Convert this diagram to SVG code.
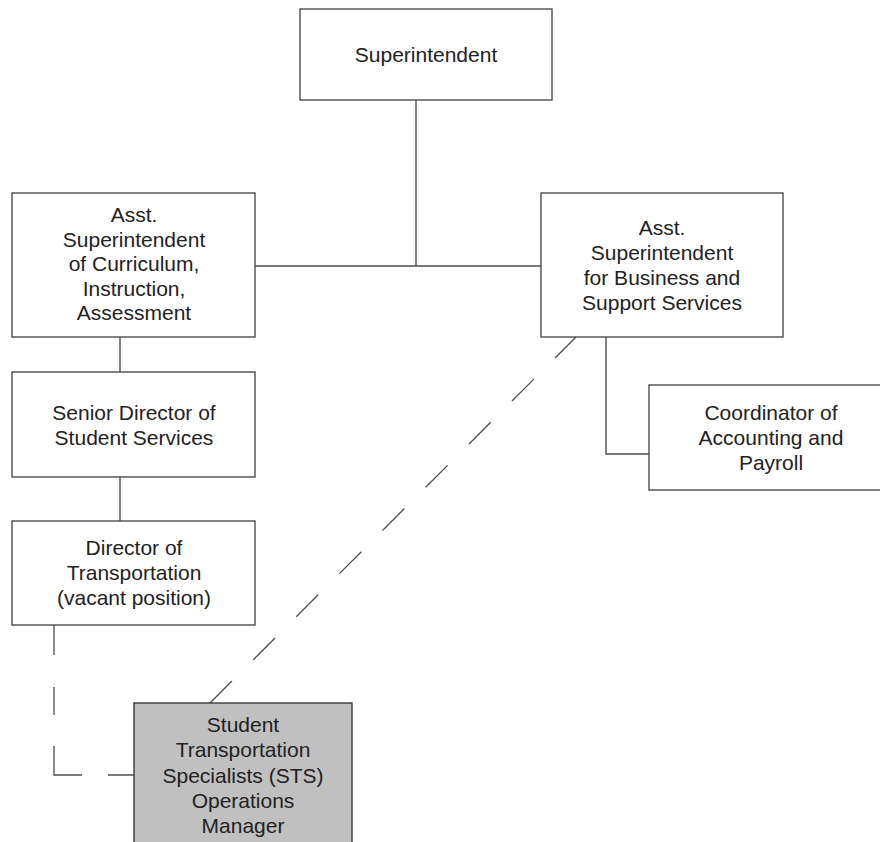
<svg xmlns="http://www.w3.org/2000/svg" width="880" height="842" viewBox="0 0 880 842">
<style>
.box{fill:#ffffff;stroke:#4d4d4d;stroke-width:1.4}
.grey{fill:#c0c0c0;stroke:#3a3a3a;stroke-width:1.4}
.t{font-family:"Liberation Sans",Arial,sans-serif;font-size:21px;fill:#222222;text-anchor:middle}
.ln{fill:none;stroke:#4d4d4d;stroke-width:1.4}
.dash{fill:none;stroke:#4d4d4d;stroke-width:1.3}
</style>
<rect width="880" height="842" fill="#ffffff"/>
<g id="connectors">
<path class="ln" d="M416 100 V266"/>
<path class="ln" d="M255 266 H541"/>
<path class="ln" d="M120 337 V372"/>
<path class="ln" d="M120 477 V521"/>
<path class="ln" d="M606 337 V454 H649"/>
<path class="dash" d="M54 625 V775 H134" stroke-dasharray="30 32 28 31 57 26 26"/>
<path class="dash" d="M210 703 L576 337" stroke-dasharray="31 30"/>
</g>
<g id="superintendent">
<rect class="box" x="300" y="9" width="252" height="91"/>
<text class="t" x="426" y="62">Superintendent</text>
</g>
<g id="asst-curriculum">
<rect class="box" x="12" y="193" width="243" height="144"/>
<text class="t" x="134"><tspan x="134" y="222">Asst.</tspan><tspan x="134" y="246.5">Superintendent</tspan><tspan x="134" y="271">of Curriculum,</tspan><tspan x="134" y="295.5">Instruction,</tspan><tspan x="134" y="320">Assessment</tspan></text>
</g>
<g id="asst-business">
<rect class="box" x="541" y="193" width="242" height="144"/>
<text class="t" x="662"><tspan x="662" y="235">Asst.</tspan><tspan x="662" y="259.5">Superintendent</tspan><tspan x="662" y="284.5">for Business and</tspan><tspan x="662" y="309.5">Support Services</tspan></text>
</g>
<g id="senior-director">
<rect class="box" x="12" y="372" width="243" height="105"/>
<text class="t" x="134"><tspan x="134" y="420">Senior Director of</tspan><tspan x="134" y="445">Student Services</tspan></text>
</g>
<g id="coordinator">
<rect class="box" x="649" y="385" width="244" height="105"/>
<text class="t" x="771"><tspan x="771" y="420">Coordinator of</tspan><tspan x="771" y="445">Accounting and</tspan><tspan x="771" y="470">Payroll</tspan></text>
</g>
<g id="director-transportation">
<rect class="box" x="12" y="521" width="243" height="104"/>
<text class="t" x="134"><tspan x="134" y="555">Director of</tspan><tspan x="134" y="580">Transportation</tspan><tspan x="134" y="604.5">(vacant position)</tspan></text>
</g>
<g id="sts-manager">
<rect class="grey" x="134" y="703" width="218" height="150"/>
<text class="t" x="243"><tspan x="243" y="732">Student</tspan><tspan x="243" y="757">Transportation</tspan><tspan x="243" y="782.5">Specialists (STS)</tspan><tspan x="243" y="808">Operations</tspan><tspan x="243" y="833">Manager</tspan></text>
</g>
</svg>
